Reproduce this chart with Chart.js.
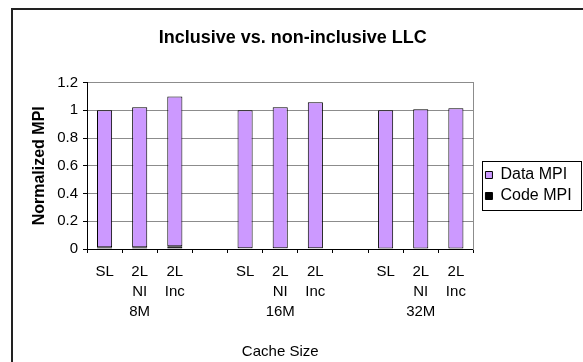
<!DOCTYPE html>
<html>
<head>
<meta charset="utf-8">
<script src="https://cdn.jsdelivr.net/npm/chart.js@4.4.1/dist/chart.umd.min.js"></script>
<style>
  html, body { margin: 0; padding: 0; background: #fff; }
  #wrap { position: relative; width: 583px; height: 362px; overflow: hidden; }
  #frame { position: absolute; left: 11px; top: 8px; width: 640px; height: 420px;
           border-left: 2px solid #222; border-top: 2px solid #222; }
  canvas { position: absolute; left: 0; top: 0; }
</style>
</head>
<body>
<div id="wrap">
  <div id="frame"></div>
  <canvas id="c" width="583" height="362"></canvas>
</div>
<script>
// Categories: three cache sizes, each with single-level, 2-level non-inclusive and 2-level inclusive
const categories = [
  ['SL'], ['2L', 'NI', '8M'], ['2L', 'Inc'], [''],
  ['SL'], ['2L', 'NI', '16M'], ['2L', 'Inc'], [''],
  ['SL'], ['2L', 'NI', '32M'], ['2L', 'Inc']
];
const codeMPI = [0.012, 0.012, 0.020, null, 0.005, 0.005, 0.005, null, 0.003, 0.003, 0.003];
const dataMPI = [0.988, 1.010, 1.080, null, 0.995, 1.017, 1.053, null, 0.997, 1.005, 1.012];
const yTicks = [0, 0.2, 0.4, 0.6, 0.8, 1, 1.2];

const FONT = '"Liberation Sans", Arial, sans-serif';
Chart.defaults.font.family = FONT;
Chart.defaults.color = '#000';

const legendFont = 16;
const legendPad = 5;
const legendBox = 7;
const plotRight = 472, legendLeft = 479;

const legendFrame = {
  id: 'legendFrame',
  afterDraw(chart) {
    const hb = chart.legend.legendHitBoxes;
    if (!hb || !hb.length) return;
    const ctx = chart.ctx;
    const first = hb[0], last = hb[hb.length - 1];
    const l = first.left - 3, t = first.top - 6;
    const r = 581, b = last.top + last.height + 6;
    ctx.save();
    ctx.strokeStyle = '#000';
    ctx.lineWidth = 1;
    ctx.strokeRect(Math.round(l) + 0.5, Math.round(t) + 0.5, Math.round(r - l), Math.round(b - t));
    ctx.restore();
  }
};

const chart = new Chart(document.getElementById('c'), {
  type: 'bar',
  data: {
    labels: categories,
    datasets: [
      { label: 'Code MPI', data: codeMPI, backgroundColor: '#000000', borderColor: '#000000',
        borderWidth: 1, borderSkipped: false, barPercentage: 0.43, categoryPercentage: 1 },
      { label: 'Data MPI', data: dataMPI, backgroundColor: '#cc99ff', borderColor: '#000000',
        borderWidth: 1, borderSkipped: false, barPercentage: 0.43, categoryPercentage: 1 }
    ]
  },
  options: {
    responsive: false,
    animation: false,
    layout: { padding: { left: 11, top: 9, right: 0, bottom: 0 } },
    plugins: {
      title: {
        display: true,
        text: 'Inclusive vs. non-inclusive LLC',
        color: '#000',
        font: { size: 18, weight: 'bold' },
        padding: { top: 18, bottom: 34 }
      },
      legend: {
        position: 'right',
        reverse: true,
        labels: {
          boxWidth: legendBox, boxHeight: legendBox, padding: legendPad,
          color: '#000', font: { size: legendFont }
        }
      },
      tooltip: { enabled: false }
    },
    scales: {
      x: {
        stacked: true,
        grid: { offset: true, drawOnChartArea: false, tickLength: 4, tickColor: '#000' },
        border: { color: '#000' },
        ticks: { padding: 9, color: '#000', maxRotation: 0, autoSkip: false,
                 font: { size: 15, lineHeight: '20px' } },
        title: { display: true, text: 'Cache Size', color: '#000',
                 font: { size: 15 }, padding: { top: 0, bottom: 1 } },
        afterFit(s) { s.height = 113; }
      },
      y: {
        stacked: true,
        min: 0, max: 1.2,
        grid: { color: '#8c8c8c', tickLength: 4, tickColor: '#000' },
        border: { color: '#000' },
        ticks: { padding: 5, color: '#000', font: { size: 15 }, callback: v => String(v) },
        afterBuildTicks(s) { s.ticks = yTicks.map(v => ({ value: v })); },
        title: { display: true, text: 'Normalized MPI', color: '#000',
                 font: { size: 16, weight: 'bold' }, padding: { top: 19, bottom: 0 } },
        afterFit(s) { s.width = 76; }
      },
      edge: {
        type: 'linear', axis: 'y', position: 'right',
        grid: { display: false },
        ticks: { display: false },
        border: { display: true, color: '#8c8c8c' },
        afterFit(s) { s.width = legendLeft - plotRight; }
      }
    }
  },
  plugins: [legendFrame]
});

// place the legend just right of the plot area, letting it run to the edge
chart.options.layout.padding.right = 583 - legendLeft - chart.legend.width;
chart.update();
</script>
</body>
</html>
